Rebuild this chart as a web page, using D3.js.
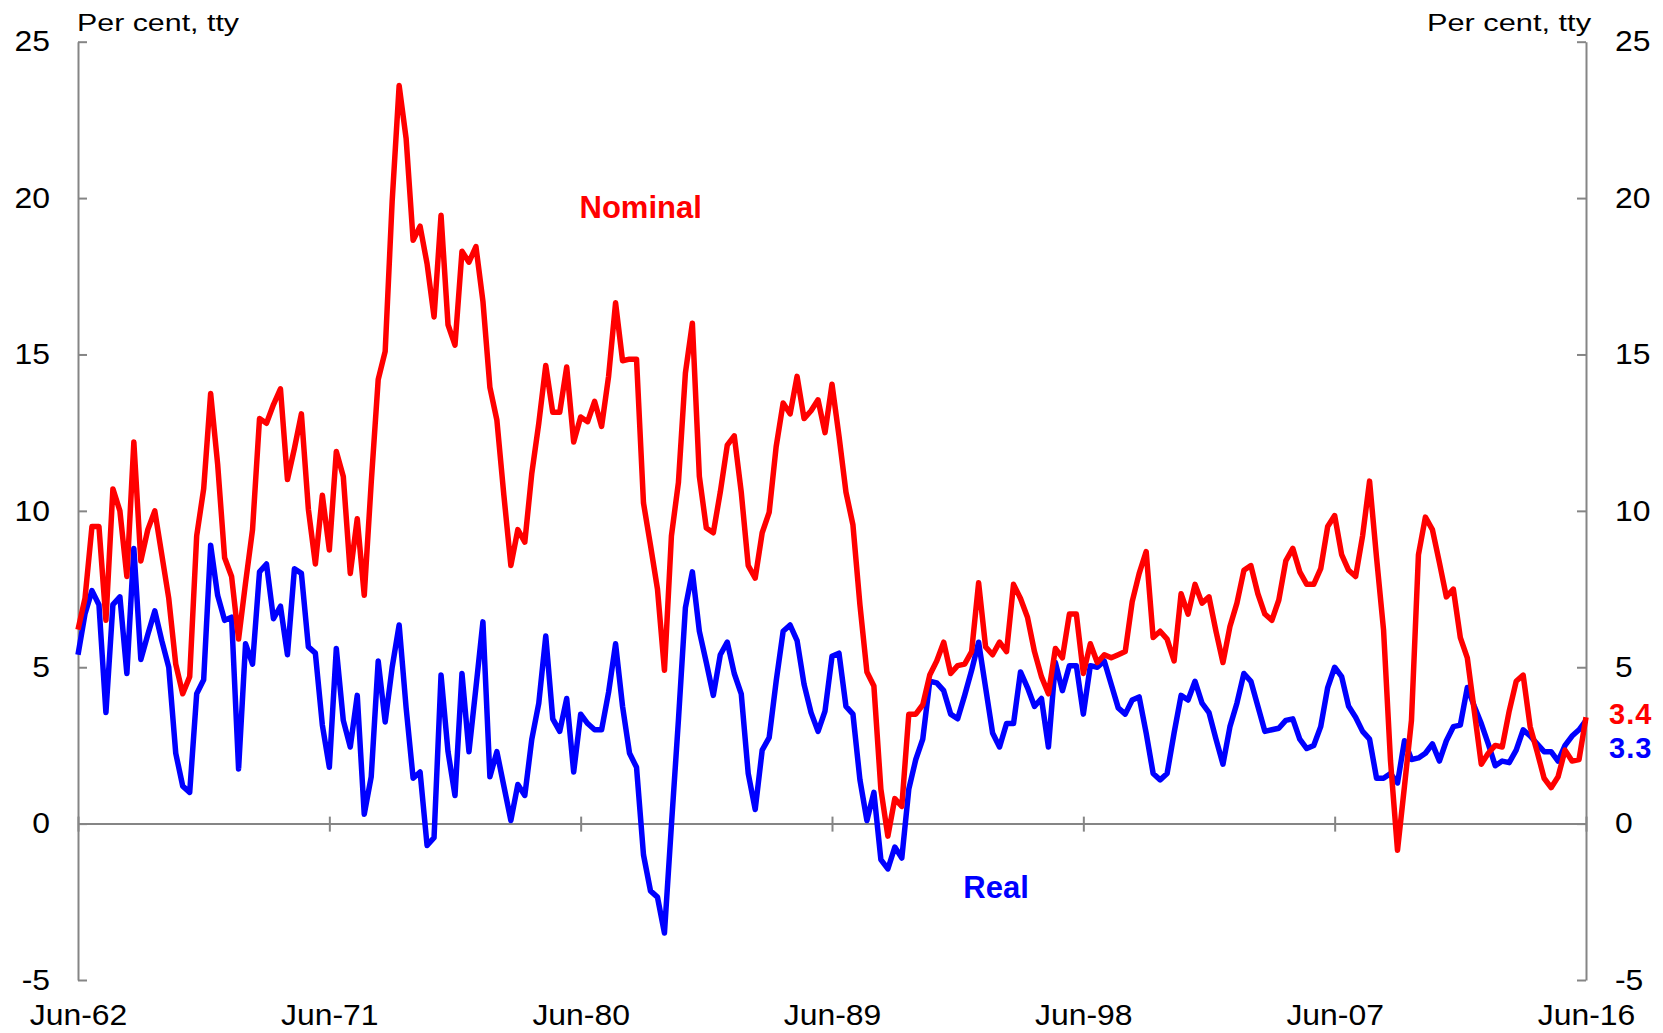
<!DOCTYPE html>
<html>
<head>
<meta charset="utf-8">
<script src="https://cdn.jsdelivr.net/npm/d3@7"></script>
<style>
    body { margin: 0; background: #fff; }
    svg { display: block; font-family: "Liberation Sans", Arial, sans-serif; }
</style>
</head>
<body>
<div id="chart"></div>
<script>
// quarterly, Jun-62 .. Jun-16, per cent through the year
var nominal = [
    6.2, 7.2, 9.5, 9.5, 6.5, 10.7, 10.0, 7.9, 12.2, 8.4, 9.4, 10.0, 8.6, 7.2, 5.1, 4.15, 4.7, 9.2, 10.7, 13.75,
    11.5, 8.5, 7.9, 5.9, 7.7, 9.4, 12.95, 12.8, 13.4, 13.9, 11.0, 12.0, 13.1, 10.05, 8.3, 10.5, 8.75, 11.9, 11.1, 8.0,
    9.75, 7.3, 10.9, 14.2, 15.1, 19.9, 23.6, 21.9, 18.65, 19.1, 17.9, 16.2, 19.45, 15.95, 15.3, 18.3, 17.95, 18.45, 16.7, 13.95,
    12.9, 10.5, 8.25, 9.4, 9.0, 11.2, 12.8, 14.65, 13.15, 13.15, 14.6, 12.2, 13.0, 12.85, 13.5, 12.7, 14.3, 16.65, 14.8, 14.85,
    14.85, 10.25, 8.9, 7.5, 4.9, 9.2, 10.9, 14.4, 16.0, 11.1, 9.45, 9.3, 10.6, 12.1, 12.4, 10.6, 8.25, 7.85, 9.3, 9.95,
    12.05, 13.45, 13.1, 14.3, 12.95, 13.2, 13.55, 12.5, 14.05, 12.4, 10.6, 9.55, 7.0, 4.85, 4.4, 1.1, -0.4, 0.8, 0.55, 3.5,
    3.5, 3.8, 4.75, 5.2, 5.8, 4.8, 5.05, 5.1, 5.5, 7.7, 5.65, 5.4, 5.8, 5.5, 7.65, 7.2, 6.6, 5.5, 4.7, 4.15,
    5.6, 5.3, 6.7, 6.7, 4.8, 5.75, 5.15, 5.4, 5.3, 5.4, 5.5, 7.1, 8.0, 8.7, 5.95, 6.15, 5.9, 5.2, 7.35, 6.7,
    7.65, 7.05, 7.25, 6.15, 5.15, 6.3, 7.05, 8.1, 8.25, 7.35, 6.7, 6.5, 7.15, 8.4, 8.8, 8.05, 7.65, 7.65, 8.15, 9.5,
    9.85, 8.6, 8.1, 7.9, 9.2, 10.95, 8.5, 6.2, 2.0, -0.85, 1.2, 3.3, 8.6, 9.8, 9.4, 8.35, 7.25, 7.5, 5.95, 5.3,
    3.6, 1.9, 2.25, 2.5, 2.45, 3.6, 4.55, 4.75, 3.1, 2.3, 1.45, 1.15, 1.5, 2.35, 2.0, 2.05, 3.4
];
var real = [
    5.4, 6.7, 7.45, 7.0, 3.55, 7.0, 7.25, 4.8, 8.8, 5.25, 6.05, 6.8, 5.85, 5.0, 2.25, 1.2, 1.0, 4.15, 4.6, 8.9,
    7.3, 6.5, 6.6, 1.75, 5.75, 5.1, 8.05, 8.3, 6.55, 6.95, 5.4, 8.15, 8.0, 5.65, 5.45, 3.15, 1.8, 5.6, 3.3, 2.45,
    4.1, 0.3, 1.5, 5.2, 3.25, 5.0, 6.35, 3.7, 1.45, 1.65, -0.7, -0.45, 4.75, 2.3, 0.9, 4.8, 2.3, 4.35, 6.45, 1.5,
    2.3, 1.2, 0.1, 1.25, 0.9, 2.7, 3.85, 6.0, 3.35, 2.95, 4.0, 1.65, 3.5, 3.2, 3.0, 3.0, 4.2, 5.75, 3.75, 2.25,
    1.8, -1.0, -2.15, -2.35, -3.5, -0.05, 3.3, 6.9, 8.05, 6.15, 5.15, 4.1, 5.4, 5.8, 4.8, 4.15, 1.6, 0.45, 2.35, 2.75,
    4.55, 6.15, 6.35, 5.85, 4.45, 3.55, 2.95, 3.6, 5.35, 5.45, 3.75, 3.5, 1.4, 0.1, 1.0, -1.15, -1.45, -0.75, -1.1, 1.1,
    2.05, 2.7, 4.55, 4.5, 4.25, 3.5, 3.35, 4.1, 4.9, 5.8, 4.35, 2.9, 2.45, 3.2, 3.2, 4.85, 4.35, 3.75, 4.0, 2.45,
    5.15, 4.25, 5.05, 5.05, 3.5, 5.05, 5.0, 5.2, 4.45, 3.7, 3.5, 3.95, 4.05, 2.9, 1.6, 1.4, 1.6, 2.9, 4.1, 3.95,
    4.55, 3.85, 3.55, 2.7, 1.9, 3.1, 3.85, 4.8, 4.55, 3.75, 2.95, 3.0, 3.05, 3.3, 3.35, 2.7, 2.4, 2.5, 3.1, 4.35,
    5.0, 4.7, 3.75, 3.4, 2.95, 2.7, 1.45, 1.45, 1.6, 1.3, 2.65, 2.05, 2.1, 2.25, 2.55, 2.0, 2.65, 3.1, 3.15, 4.35,
    3.75, 3.2, 2.55, 1.85, 2.0, 1.95, 2.35, 3.0, 2.8, 2.55, 2.3, 2.3, 2.0, 2.5, 2.8, 3.0, 3.3
];
var xTickIndex = [0, 36, 72, 108, 144, 180, 216];
var xTickLabels = ["Jun-62", "Jun-71", "Jun-80", "Jun-89", "Jun-98", "Jun-07", "Jun-16"];
var yTicks = [-5, 0, 5, 10, 15, 20, 25];

(function() {
    var width = 1663, height = 1033;
    var margin = {top: 41.7, right: 77, bottom: 53, left: 78};
    var grey = "#858585";

    var svg = d3.select("#chart").append("svg")
        .attr("width", width)
        .attr("height", height);

    var x = d3.scaleLinear().domain([0, nominal.length - 1]).range([margin.left, width - margin.right]);
    var y = d3.scaleLinear().domain([-5, 25]).range([height - margin.bottom, margin.top]);

    // the original's text is a little wider than Arial, stretch glyphs to match
    function widen(sel, k) {
        sel.each(function() {
            var w = this.getComputedTextLength();
            d3.select(this).attr("textLength", w * k).attr("lengthAdjust", "spacingAndGlyphs");
        });
    }

    function styleAxis(g) {
        g.select(".domain").attr("stroke", grey).attr("stroke-width", 2);
        g.selectAll(".tick line").attr("stroke", grey).attr("stroke-width", 2);
        g.selectAll(".tick text")
            .attr("fill", "#000")
            .style("font-size", "29px")
            .call(widen, 1.1);
    }

    var plain = function(d) { return String(d); }; // hyphen minus, like the original

    // left and right value axes, ticks pointing into the plot
    svg.append("g")
        .attr("transform", "translate(" + x.range()[0] + ",0)")
        .call(d3.axisLeft(y).tickValues(yTicks).tickFormat(plain)
            .tickSizeInner(-9).tickSizeOuter(0).tickPadding(28))
        .call(styleAxis);

    svg.append("g")
        .attr("transform", "translate(" + x.range()[1] + ",0)")
        .call(d3.axisRight(y).tickValues(yTicks).tickFormat(plain)
            .tickSizeInner(-9).tickSizeOuter(0).tickPadding(29))
        .call(styleAxis);

    // zero line with date ticks crossing it
    var zeroAxis = svg.append("g")
        .attr("transform", "translate(0," + y(0) + ")")
        .call(d3.axisBottom(x).tickValues(xTickIndex).tickSizeInner(8).tickSizeOuter(0).tickFormat(""))
        .call(styleAxis);
    zeroAxis.selectAll(".tick line").attr("y1", -7);

    // date labels along the bottom
    var dateAxis = svg.append("g")
        .attr("transform", "translate(0," + y(-5) + ")")
        .call(d3.axisBottom(x).tickValues(xTickIndex).tickSize(0)
            .tickFormat(function(d, i) { return xTickLabels[i]; }))
        .call(styleAxis);
    dateAxis.select(".domain").remove();
    dateAxis.selectAll(".tick text").attr("y", 45).attr("dy", 0);

    // unit labels
    svg.append("text")
        .attr("x", x.range()[0] - 1).attr("y", 31)
        .attr("textLength", 162).attr("lengthAdjust", "spacingAndGlyphs")
        .style("font-size", "24.5px")
        .text("Per cent, tty");
    svg.append("text")
        .attr("x", x.range()[1] + 5 - 164).attr("y", 31)
        .attr("textLength", 164).attr("lengthAdjust", "spacingAndGlyphs")
        .style("font-size", "24.5px")
        .text("Per cent, tty");

    var line = d3.line()
        .x(function(d, i) { return x(i); })
        .y(function(d) { return y(d); });

    svg.append("path")
        .datum(real)
        .attr("d", line)
        .attr("fill", "none")
        .attr("stroke", "#0000ff")
        .attr("stroke-width", 5.5)
        .attr("stroke-linejoin", "round");

    svg.append("path")
        .datum(nominal)
        .attr("d", line)
        .attr("fill", "none")
        .attr("stroke", "#ff0000")
        .attr("stroke-width", 5.5)
        .attr("stroke-linejoin", "round");

    // series labels
    svg.append("text")
        .attr("x", x(80.6)).attr("y", y(19.36))
        .attr("text-anchor", "middle")
        .attr("fill", "#ff0000")
        .style("font-size", "31px").style("font-weight", "bold")
        .text("Nominal");
    svg.append("text")
        .attr("x", x(131.5)).attr("y", y(-2.38))
        .attr("text-anchor", "middle")
        .attr("fill", "#0000ff")
        .style("font-size", "31px").style("font-weight", "bold")
        .text("Real");

    // latest values
    var last = nominal.length - 1;
    svg.append("text")
        .attr("x", x(last) + 23).attr("y", y(nominal[last]) + 7)
        .attr("fill", "#ff0000")
        .style("font-size", "29px").style("font-weight", "bold").style("letter-spacing", "1px")
        .text(nominal[last].toFixed(1));
    svg.append("text")
        .attr("x", x(last) + 23).attr("y", y(nominal[last]) + 41)
        .attr("fill", "#0000ff")
        .style("font-size", "29px").style("font-weight", "bold").style("letter-spacing", "1px")
        .text(real[last].toFixed(1));
})();
</script>
</body>
</html>
